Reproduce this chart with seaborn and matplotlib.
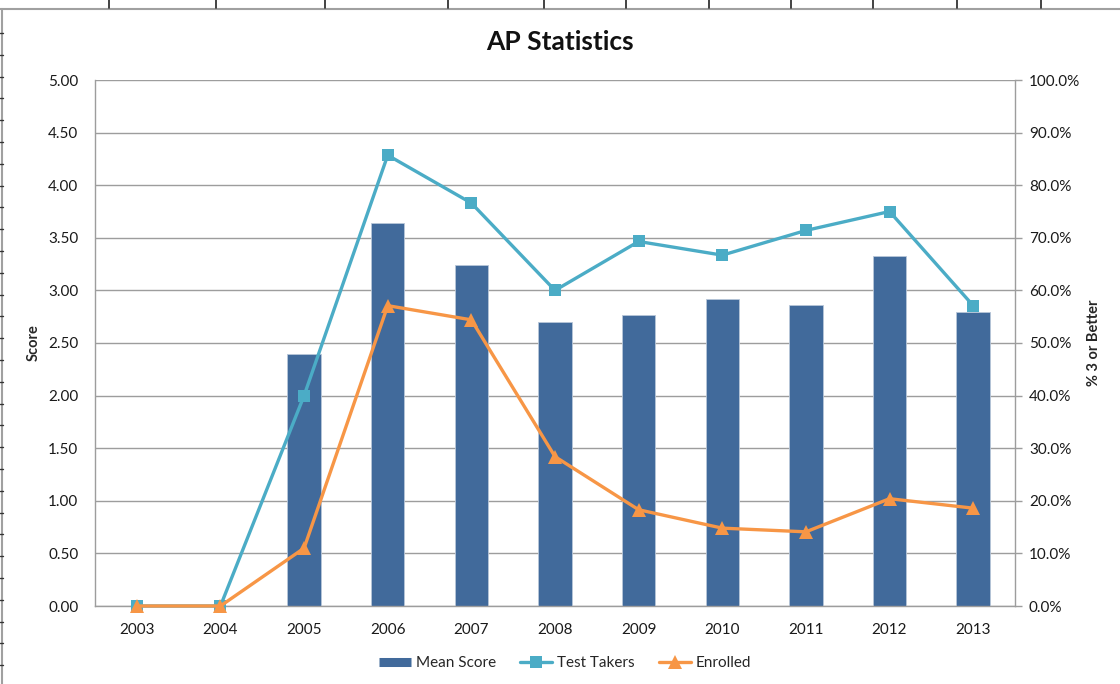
#!/usr/bin/env python3
import matplotlib
matplotlib.use("Agg")
import matplotlib.pyplot as plt
import numpy as np
import pandas as pd
import seaborn as sns
from matplotlib.lines import Line2D
from matplotlib.ticker import FuncFormatter, MultipleLocator

# --- data
years = ["2003", "2004", "2005", "2006", "2007", "2008", "2009", "2010", "2011", "2012", "2013"]
mean_score = [0.0, 0.0, 2.40, 3.64, 3.24, 2.70, 2.77, 2.92, 2.86, 3.33, 2.79]
test_takers_pct = [0.0, 0.0, 40.0, 85.7, 76.6, 60.0, 69.3, 66.7, 71.4, 75.0, 57.1]
enrolled_pct = [0.0, 0.0, 11.0, 57.1, 54.4, 28.4, 18.3, 14.8, 14.1, 20.4, 18.6]

BAR = "#416A9B"
AQUA = "#4BACC6"
ORANGE = "#F79646"
GRID = "#9d9d9d"

W, H = 1120, 684


def px(x, y):
    return x / W, 1 - y / H


def sheet_decor(fig):
    # spreadsheet cell borders visible around the chart in the screenshot
    x0, y0 = px(0, 9)
    x1, _ = px(W, 9)
    fig.add_artist(Line2D([x0, x1], [y0, y0], color="#a0a0a0", lw=1.5, transform=fig.transFigure))
    for cx in [109, 216, 325, 448, 544, 626, 709, 791, 873, 957, 1041]:
        a, b = px(cx, 0)
        _, c = px(cx, 8)
        fig.add_artist(Line2D([a, a], [b, c], color="#222222", lw=1.2, transform=fig.transFigure))
    a, b = px(2, 9)
    _, c = px(2, H)
    fig.add_artist(Line2D([a, a], [b, c], color="#a0a0a0", lw=1.5, transform=fig.transFigure))
    for ry in np.arange(33, H, 21.8):
        a, b = px(0, ry)
        e, _ = px(3, ry)
        fig.add_artist(Line2D([a, e], [b, b], color="#333333", lw=1, transform=fig.transFigure))


def main():
    sns.set_theme(style="white", rc={"figure.facecolor": "white", "axes.facecolor": "white"})
    plt.rcParams["font.family"] = ["Lato", "DejaVu Sans"]

    df = pd.DataFrame(
        {
            "year": years,
            "pos": np.arange(len(years)),
            "score": mean_score,
            "takers": test_takers_pct,
            "enrolled": enrolled_pct,
        }
    )

    fig = plt.figure(figsize=(W / 100, H / 100), dpi=100)
    ax = fig.add_axes([95 / W, 1 - 606 / H, 920 / W, 526 / H])

    sns.barplot(data=df, x="year", y="score", ax=ax, color=BAR, width=0.4,
                saturation=1, edgecolor="#b8c6d8", linewidth=0.6, zorder=2)
    ax.set_ylim(0, 5)
    ax.set_xlim(-0.5, len(years) - 0.5)
    ax.yaxis.set_major_locator(MultipleLocator(0.5))
    ax.yaxis.set_major_formatter(FuncFormatter(lambda v, _: f"{v:.2f}"))
    ax.grid(axis="y", color=GRID, lw=1, zorder=0)
    ax.set_axisbelow(True)
    for s in ["top", "right"]:
        ax.spines[s].set_visible(False)
    for s in ["left", "bottom"]:
        ax.spines[s].set_color(GRID)
        ax.spines[s].set_linewidth(1)
    ax.tick_params(axis="y", length=0, pad=12, labelsize=11, colors="#1a1a1a")
    ax.tick_params(axis="x", length=0, pad=12, labelsize=11, colors="#1a1a1a")
    ax.set_xlabel("")
    ax.set_ylabel("Score", fontsize=10.5, fontweight="bold", labelpad=5)

    ax2 = ax.twinx()
    sns.lineplot(data=df, x="pos", y="takers", ax=ax2, color=AQUA, lw=2.4,
                 marker="s", markersize=8, markeredgewidth=0, zorder=3, clip_on=False)
    sns.lineplot(data=df, x="pos", y="enrolled", ax=ax2, color=ORANGE, lw=2.4,
                 marker="^", markersize=10.5, markeredgewidth=0, zorder=4, clip_on=False)
    ax2.set_ylim(0, 100)
    ax2.set_xlim(-0.5, len(years) - 0.5)
    ax2.yaxis.set_major_locator(MultipleLocator(10))
    ax2.yaxis.set_major_formatter(FuncFormatter(lambda v, _: f"{v:.1f}%"))
    for s in ["top", "left", "bottom"]:
        ax2.spines[s].set_visible(False)
    ax2.spines["right"].set_color(GRID)
    ax2.spines["right"].set_linewidth(1)
    ax2.tick_params(axis="y", length=5, width=1, color=GRID, pad=5, labelsize=11,
                    colors="#1a1a1a", right=True)
    ax2.tick_params(axis="y", color=GRID)
    ax2.set_ylabel("% 3 or Better", fontsize=10.5, fontweight="bold", labelpad=5)
    ax2.grid(False)

    fig.text(0.5, 1 - 42 / H, "AP Statistics", ha="center", va="center",
             fontsize=19, fontweight="bold", color="#111111")

    handles = [
        Line2D([], [], color=BAR, lw=6.5, solid_capstyle="butt"),
        Line2D([], [], color=AQUA, lw=2.4, marker="s", markersize=8, markeredgewidth=0),
        Line2D([], [], color=ORANGE, lw=2.4, marker="^", markersize=10.5, markeredgewidth=0),
    ]
    fig.legend(handles, ["Mean Score", "Test Takers", "Enrolled"], loc="center",
               bbox_to_anchor=(px(565, 663)), ncol=3, frameon=False, fontsize=11,
               handlelength=2.1, handletextpad=0.3, columnspacing=1.6)

    sheet_decor(fig)
    fig.savefig("out.png", dpi=100, facecolor="white")
    plt.close(fig)


if __name__ == "__main__":
    main()
